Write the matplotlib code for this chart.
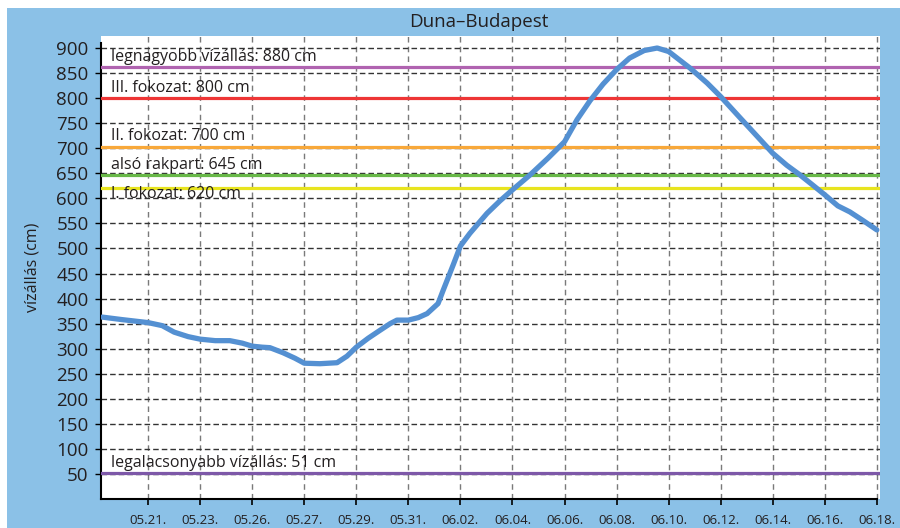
import numpy as np
import matplotlib
matplotlib.use("Agg")
import matplotlib.pyplot as plt
from matplotlib.patches import Rectangle

plt.rcParams['font.family'] = ['Open Sans', 'DejaVu Sans']

# x tick labels (dates), evenly spaced categories
dates = ['05.21.', '05.23.', '05.26.', '05.27.', '05.29.', '05.31.', '06.02.',
         '06.04.', '06.06.', '06.08.', '06.10.', '06.12.', '06.14.', '06.16.', '06.18.']

# water level readings, position in date-tick units
level_pos = [-0.88, -0.5, 0, 0.27, 0.5, 0.77, 1, 1.29, 1.57, 1.81, 2, 2.19, 2.34, 2.59,
             2.82, 3, 3.3, 3.63, 3.82, 4, 4.23, 4.46, 4.65, 4.78, 5, 5.19, 5.36, 5.57,
             5.67, 5.86, 6, 6.18, 6.51, 6.76, 7, 7.34, 7.68, 8, 8.24, 8.49, 8.74, 9,
             9.25, 9.53, 9.78, 10, 10.41, 10.74, 11, 11.37, 11.69, 12, 12.27, 12.52,
             12.75, 13, 13.25, 13.48, 13.73, 14]
level_cm = [363, 358, 352, 346, 333, 324, 319, 316, 316, 311, 305, 303, 302, 292,
            281, 271, 270, 272, 285, 303, 321, 337, 350, 357, 357, 362, 370, 390,
            417, 467, 505, 530, 570, 595, 617, 647, 680, 713, 757, 795, 828, 857,
            880, 895, 900, 893, 860, 830, 803, 761, 725, 690, 666, 647,
            628, 607, 585, 573, 556, 537]

# reference levels (the 880 cm line is drawn lower in the original)
ref_values = [862, 800, 703, 646, 621, 51]
ref_labels = ['legnagyobb vízállás: 880 cm', 'III. fokozat: 800 cm', 'II. fokozat: 700 cm',
              'alsó rakpart: 645 cm', 'I. fokozat: 620 cm', 'legalacsonyabb vízállás: 51 cm']
ref_colors = ['#b063b0', '#ee3535', '#f8a83a', '#68b848', '#e8e41e', '#7d58a8']
label_offsets = [4.3, 4.3, 4.8, 4.8, -7.2, 4.3]

fig = plt.figure(figsize=(9, 5.28), dpi=100)
fig.patch.set_facecolor('white')
fig.patches.append(Rectangle((7 / 900, 0), 1, 1 - 8 / 528, transform=fig.transFigure,
                             facecolor='#8bc1e7', edgecolor='none', zorder=-5))

ax = fig.add_axes([101 / 900, 1 - 499 / 528, 779 / 900, 463 / 528])
ax.set_zorder(2)
ax.set_facecolor('white')

ax.set_xlim(-0.905, 14.06)
ax.set_ylim(0, 924)

for v, lab, c, off in zip(ref_values, ref_labels, ref_colors, label_offsets):
    ax.axhline(v, color=c, lw=2.3, zorder=3)
    ax.annotate(lab, xy=(-0.72, v), xytext=(0, off), textcoords='offset points',
                va='baseline', ha='left', fontsize=11.5, color='#231f20', zorder=4)

ax.plot(level_pos, level_cm, color='#5490d2', lw=3.8, solid_joinstyle='round',
        solid_capstyle='round', zorder=5)

ax.set_xticks(range(len(dates)))
ax.set_xticklabels(dates, fontsize=9.5, color='#231f20')
ax.set_yticks(np.arange(50, 901, 50))
ax.tick_params(axis='y', labelsize=13.5, labelcolor='#231f20', length=4, pad=5, width=1)
ax.tick_params(axis='x', length=4, pad=7, width=1.2)

ax.xaxis.grid(True, color='#7a7a7a', linestyle=(0, (4, 3)), lw=1.0, zorder=1)
ax.yaxis.grid(True, color='#333333', linestyle=(0, (4, 2.2)), lw=1.0, zorder=1)
ax.set_axisbelow(True)

for s in ['top', 'right']:
    ax.spines[s].set_visible(False)
ax.spines['left'].set_bounds(0, 910)
ax.spines['left'].set_linewidth(1.5)
ax.spines['bottom'].set_linewidth(1.5)
ax.spines['bottom'].set_bounds(-0.905, 14.0)

ax.set_ylabel('vízállás (cm)', fontsize=11.5, color='#231f20')
ax.yaxis.set_label_coords(-0.078, 0.5)

fig.text(479 / 900, 1 - 22 / 528, 'Duna–Budapest', ha='center', va='center',
         fontsize=13.5, color='#231f20')

fig.savefig('out.png', dpi=100)
